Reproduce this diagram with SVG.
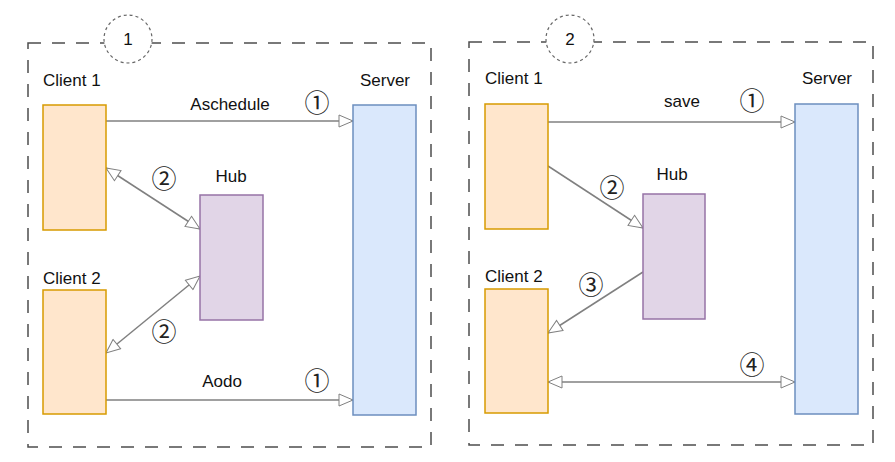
<svg xmlns="http://www.w3.org/2000/svg" width="895" height="462" viewBox="0 0 895 462">
<style>
.frame{fill:none;stroke:#4d4d4d;stroke-width:1.5;stroke-dasharray:13 11}
.badge{fill:#fff;stroke:#666;stroke-width:1.2;stroke-dasharray:3 3}
.client{fill:#ffe6cc;stroke:#d79b00;stroke-width:1.5}
.hub{fill:#e1d5e7;stroke:#9673a6;stroke-width:1.5}
.server{fill:#dae8fc;stroke:#6c8ebf;stroke-width:1.5}
.lbl{font-family:"Liberation Sans",Arial,sans-serif;font-size:17px;fill:#111}
.num{font-family:"Noto Sans CJK SC","DejaVu Sans",sans-serif;font-size:25px;fill:#222;text-anchor:middle;dominant-baseline:central}
.edge{fill:none;stroke:#808080;stroke-width:1.5}
.one{marker-end:url(#arr)}
.two{marker-end:url(#arr);marker-start:url(#arr)}
</style>
<defs>
<marker id="arr" viewBox="0 0 16 14" refX="15" refY="7" markerWidth="16" markerHeight="14" markerUnits="userSpaceOnUse" orient="auto-start-reverse">
<path d="M1,1 L15,7 L1,13 Z" fill="#fff" stroke="#808080" stroke-width="1"/>
</marker>
</defs>
<rect width="895" height="462" fill="#fff"/>

<g id="panel1">
<rect class="frame" x="28" y="43" width="403" height="404"/>
<g id="badge1"><circle class="badge" cx="128" cy="39" r="24"/><text class="lbl" x="128" y="45" text-anchor="middle">1</text></g>
</g>
<g id="panel2">
<rect class="frame" x="469" y="42" width="404" height="403"/>
<g id="badge2"><circle class="badge" cx="570" cy="39" r="24"/><text class="lbl" x="570" y="45" text-anchor="middle">2</text></g>
</g>

<g id="connectors">
<path class="edge one" d="M106,121 L353,121"/>
<path class="edge two" d="M106,168 L200,229"/>
<path class="edge two" d="M106,353 L200,276"/>
<path class="edge one" d="M106,400 L353,400"/>
<path class="edge one" d="M548,122 L795,122"/>
<path class="edge one" d="M548,166 L643,228"/>
<path class="edge one" d="M643,272 L548,333"/>
<path class="edge two" d="M548,382 L795,382"/>
</g>

<g id="edge-labels">
<text class="lbl" x="230" y="110" text-anchor="middle">Aschedule</text>
<text class="num" x="317" y="101">①</text>
<text class="num" x="164" y="177">②</text>
<text class="num" x="164" y="330">②</text>
<text class="lbl" x="222" y="387" text-anchor="middle">Aodo</text>
<text class="num" x="317" y="379">①</text>
<text class="lbl" x="682" y="107" text-anchor="middle">save</text>
<text class="num" x="752" y="99">①</text>
<text class="num" x="612" y="186">②</text>
<text class="num" x="591" y="283">③</text>
<text class="num" x="752" y="363">④</text>
</g>

<g id="client1-a"><rect class="client" x="43" y="105" width="63" height="125"/><text class="lbl" x="43" y="86">Client 1</text></g>
<g id="hub-a"><rect class="hub" x="200" y="195" width="63" height="125"/><text class="lbl" x="231" y="182" text-anchor="middle">Hub</text></g>
<g id="client2-a"><rect class="client" x="43" y="290" width="63" height="124"/><text class="lbl" x="43" y="284">Client 2</text></g>
<g id="server-a"><rect class="server" x="353" y="105" width="63" height="310"/><text class="lbl" x="385" y="86" text-anchor="middle">Server</text></g>

<g id="client1-b"><rect class="client" x="485" y="104" width="63" height="125"/><text class="lbl" x="485" y="84">Client 1</text></g>
<g id="hub-b"><rect class="hub" x="643" y="194" width="62" height="125"/><text class="lbl" x="672" y="180" text-anchor="middle">Hub</text></g>
<g id="client2-b"><rect class="client" x="485" y="289" width="63" height="124"/><text class="lbl" x="485" y="282">Client 2</text></g>
<g id="server-b"><rect class="server" x="795" y="104" width="63" height="310"/><text class="lbl" x="827" y="84" text-anchor="middle">Server</text></g>
</svg>
